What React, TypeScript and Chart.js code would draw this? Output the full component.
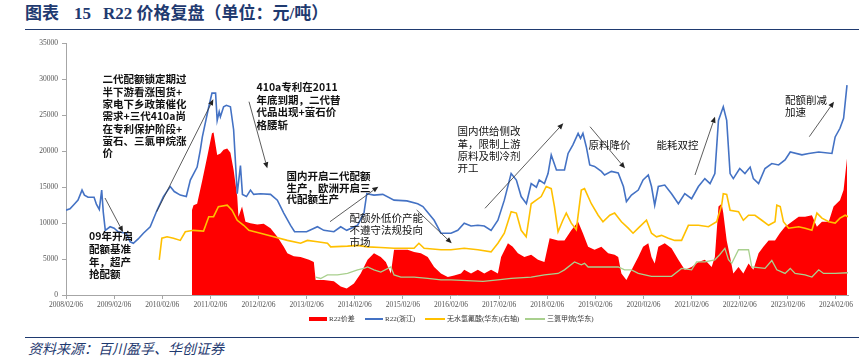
import React, { useEffect, useRef } from "react";
import { Chart, registerables } from "chart.js";
Chart.register(...registerables);

// x values are months counted from 2008/02/06
const START_YEAR = 2008;
const xTickMonths = [0, 12, 24, 36, 48, 60, 72, 84, 96, 108, 120, 132, 144, 156, 168, 180, 192];
const yTickValues = [0, 5000, 10000, 15000, 20000, 25000, 30000, 35000];

const seriesNames = ["R22价差", "R22(浙江)", "无水氢氟酸(华东)(右轴)", "三氯甲烷(华东)"];

const r22ZjMonths = [0, 1, 2, 3, 4, 4.6, 5.5, 7, 7.6, 8.3, 8.9, 9.3, 9.8, 11, 12, 13, 15, 16, 16.8, 18, 19.3, 21, 22.7, 24.3, 26, 27, 28.5, 30, 31, 32.7, 33.5, 34, 35.6, 36.4, 37.3, 37.7, 38.2, 38.5, 39.3, 40, 41, 41.8, 42.7, 43.5, 44, 45, 46, 46.8, 48.5, 51, 52.7, 54.3, 56, 57, 60, 62.7, 64.3, 66.8, 68.5, 70, 72.7, 74.3, 75, 76.8, 79, 81.8, 85, 87.7, 89, 91.8, 93.5, 96, 97.7, 99.3, 101, 102.7, 104.3, 106, 107.7, 109.3, 111, 112.3, 113.5, 114.8, 116, 117.3, 118, 119.3, 120.2, 121, 122.3, 124.3, 125.2, 126.4, 127.7, 128.3, 128.9, 129.75, 130.6, 131.8, 133.5, 134.3, 136, 137.7, 139, 139.75, 141, 142.7, 143.9, 145.2, 146, 146.8, 147.7, 149.3, 151, 152.7, 154.3, 156, 157.7, 159.3, 160.6, 161.8, 162.7, 163.9, 164.75, 165.6, 166.4, 168, 169.3, 170.6, 171.4, 172.7, 174.3, 176, 177.7, 179.3, 180.6, 183.5, 185.2, 187.7, 191, 191.8, 193, 193.9, 194.75];
const r22ZjValues = [11800, 12000, 12600, 13200, 14600, 13900, 13600, 13600, 12600, 11900, 14600, 11500, 9000, 9500, 9300, 8800, 8600, 7400, 7200, 7800, 8600, 9500, 11800, 13700, 15100, 14400, 13900, 13700, 16000, 17800, 20200, 22000, 26200, 28100, 28100, 24300, 25500, 24800, 26200, 26400, 26200, 23000, 14100, 18000, 14000, 13700, 14600, 14000, 14100, 14000, 13200, 11400, 9700, 8800, 8800, 9500, 9000, 8800, 9500, 9000, 9700, 11400, 14100, 13900, 14000, 13200, 13100, 12700, 12300, 10400, 8600, 8600, 9000, 10000, 9600, 9700, 9600, 9000, 10400, 13200, 16900, 16000, 13700, 12700, 15500, 15000, 16000, 15500, 16900, 19500, 17400, 17400, 19700, 20900, 22500, 21800, 22500, 20600, 18100, 17900, 17200, 16700, 17200, 17000, 15100, 13000, 13900, 14600, 16000, 16700, 15100, 12500, 15100, 15300, 14100, 12700, 14100, 13400, 15100, 16200, 15500, 16900, 24300, 26200, 24300, 16900, 16200, 17600, 16900, 17800, 16200, 15500, 17600, 18300, 18100, 18800, 19900, 19500, 19700, 19900, 19700, 22000, 23200, 24600, 29200];

const spreadMonths = [31.4, 31.8, 32.7, 34, 35.2, 36.4, 36.8, 37.7, 38.5, 39.3, 40.2, 41, 41.8, 42.7, 43, 43.9, 44.75, 46, 47.7, 49.3, 51, 52.7, 54.3, 55.2, 56.8, 58.5, 60.6, 61.8, 62.25, 64.3, 66.8, 68.5, 70, 71.8, 73.5, 75.2, 76.8, 78.5, 79.75, 81, 81.8, 83.5, 85.2, 86.8, 88.5, 90.2, 91.8, 93.5, 95.2, 96.8, 98.5, 99.3, 101, 102.7, 104.3, 106, 107.7, 108.5, 110.2, 111.4, 112.7, 114.3, 116, 117.7, 119.3, 120.6, 122.7, 124.3, 126, 127.7, 128.9, 130.2, 131.8, 133.5, 135.2, 136.8, 137.7, 138.5, 139.75, 141.4, 142.7, 143.9, 145.2, 146, 146.8, 147.7, 149.3, 151, 152.7, 154.3, 156, 157.7, 159.3, 161, 161.8, 162.7, 163.5, 163.9, 164.75, 165.6, 166.4, 167.7, 168.9, 170.2, 171.4, 172.7, 173.9, 175.2, 176.8, 178, 179.3, 181, 182.7, 184.3, 186, 187.25, 188.5, 190.2, 191.4, 193, 193.9, 194.75];
const spreadValues = [11800, 12500, 12700, 16000, 19200, 22500, 22600, 19500, 19700, 20200, 20400, 19800, 17400, 13700, 10900, 12300, 10200, 10000, 9800, 9900, 9300, 8100, 6700, 5800, 5400, 5300, 4900, 4600, 2100, 2100, 1900, 1200, 900, 1600, 3000, 4900, 5800, 5300, 4600, 3000, 6300, 6300, 6300, 6000, 5800, 5300, 3900, 3000, 2500, 2700, 3000, 3500, 3000, 3500, 3000, 3500, 3000, 5300, 7200, 6700, 5800, 5300, 5600, 4900, 4600, 7900, 7600, 7600, 9000, 10200, 8600, 6700, 6300, 6700, 5800, 5600, 5300, 3000, 2100, 3900, 5300, 6700, 7200, 5300, 4400, 6700, 7200, 6500, 4900, 3500, 3900, 4600, 4900, 3900, 5300, 12300, 12700, 11400, 7600, 5300, 3000, 3900, 3000, 4400, 3500, 5800, 6700, 7600, 7600, 8600, 9500, 10200, 10900, 10900, 11100, 9500, 10200, 10200, 12300, 13200, 14600, 19000];

const hfMonths = [23.25, 23.9, 25.2, 26.8, 28.5, 29.75, 31.8, 34.3, 35.6, 36.8, 38, 40.2, 41.4, 42.7, 44.3, 45.6, 48.5, 51.8, 55.2, 58.5, 60.2, 62.7, 65.2, 66, 70.2, 72.7, 75.2, 78.5, 81.8, 86.8, 88, 89.3, 93.5, 96, 99.3, 102.7, 106, 107.7, 109.3, 111, 112.3, 113.5, 114.75, 116, 117.25, 118.5, 119.75, 121, 121.8, 122.7, 123.9, 124.75, 126, 127.25, 128.5, 129.3, 131, 132.7, 133.9, 135.6, 136.8, 138.5, 140.2, 141.4, 142.7, 144.75, 146, 147.25, 148.5, 150.2, 151.8, 153.5, 155.2, 157.7, 160.2, 162.25, 163.5, 163.9, 164.75, 165.6, 167.7, 168.9, 170.2, 171.8, 173.5, 175.2, 176.8, 177.25, 178.1, 178.9, 180.2, 182.7, 184.3, 186, 187.25, 188.5, 190.2, 191.8, 193, 194.3, 195];
const hfValues = [4900, 7900, 8100, 7900, 7600, 8800, 9000, 8900, 10900, 10900, 12300, 12500, 11800, 10400, 9700, 9000, 8600, 8100, 7600, 7200, 7600, 7400, 7200, 6700, 6800, 6900, 6700, 6600, 6500, 6500, 7200, 6500, 6300, 6300, 6500, 6300, 6000, 7200, 8600, 11600, 11400, 9000, 8100, 12700, 13200, 13700, 15100, 14800, 12300, 8800, 10400, 11400, 10000, 9100, 14600, 14800, 12700, 11100, 10200, 11100, 11400, 10200, 9300, 8600, 9300, 10400, 8600, 8100, 8300, 7900, 7600, 7600, 9700, 9700, 9500, 10200, 12500, 14100, 14000, 11800, 11600, 10400, 11100, 11100, 10400, 9700, 10200, 12500, 12300, 10200, 9300, 9500, 9300, 9000, 11400, 10700, 10200, 10000, 10700, 11100, 10900];

const tcmMonths = [62.25, 63.5, 65.2, 67.7, 70.2, 72.7, 74.3, 75.2, 76.8, 78.5, 81, 81.8, 83.5, 86.8, 90.2, 93.5, 96, 100, 104, 107.7, 111, 116, 119.3, 122.7, 124.3, 126.8, 128.5, 129.3, 130.2, 137.7, 139.3, 141, 142.7, 146, 151, 153.5, 156, 157.25, 159.3, 161.8, 163, 164.3, 165.2, 166, 167.7, 170.2, 171, 174.3, 176, 177.25, 179.3, 180.6, 181.8, 184.3, 186, 187.7, 188.9, 191.8, 195];
const tcmValues = [2500, 2300, 2800, 2800, 3000, 3500, 3700, 3900, 3500, 3200, 3900, 2800, 2500, 2500, 2300, 2100, 2100, 2000, 1900, 2100, 2300, 2500, 2800, 3000, 3500, 4600, 4200, 4400, 3900, 3900, 3500, 3500, 3000, 2600, 2600, 3700, 3500, 4600, 4600, 4900, 5600, 6500, 4900, 4400, 6300, 6300, 3900, 3700, 4800, 3500, 3000, 3700, 3000, 2800, 2500, 3500, 3000, 3000, 3100];

const COLORS = { spread: "#FF0000", zj: "#4472C4", hf: "#FFC000", tcm: "#A9D08E" };
const NAVY = "#1F3A70";
const CANVAS_TOP = 32;

type Note = { x: number; y: number; lh: number; bold: boolean; lines: string[] };
const notes: Note[] = [
  { x: 89, y: 236.5, lh: 12.6, bold: true, lines: ["09年开启", "配额基准", "年，超产", "抢配额"] },
  { x: 102.5, y: 79.5, lh: 12.3, bold: true, lines: ["二代配额锁定期过", "半下游看涨囤货+", "家电下乡政策催化", "需求+三代410a尚", "在专利保护阶段+", "萤石、三氯甲烷涨", "价"] },
  { x: 256.5, y: 87, lh: 12.7, bold: true, lines: ["410a专利在2011", "年底到期，二代替", "代品出现+萤石价", "格腰斩"] },
  { x: 286.5, y: 176, lh: 11.7, bold: true, lines: ["国内开启二代配额", "生产，欧洲开启三", "代配额生产"] },
  { x: 349.5, y: 218.5, lh: 11.7, bold: false, lines: ["配额外低价产能", "不遵守法规投向", "市场"] },
  { x: 457.5, y: 131.5, lh: 12.2, bold: false, lines: ["国内供给侧改", "革，限制上游", "原料及制冷剂", "开工"] },
  { x: 588.5, y: 145, lh: 12, bold: false, lines: ["原料降价"] },
  { x: 656.5, y: 145, lh: 12, bold: false, lines: ["能耗双控"] },
  { x: 785, y: 100.5, lh: 11.5, bold: false, lines: ["配额削减", "加速"] },
];
const arrows: [number, number, number, number][] = [
  [105, 198, 123, 232],
  [156.7, 211.7, 213.3, 99.3],
  [249, 101.7, 267.3, 168.3],
  [330, 221.7, 378.3, 186.7],
  [416.7, 210, 451.7, 243.3],
  [485, 208.3, 563.3, 123.3],
  [590, 126.7, 625, 168.3],
  [695, 175, 715, 116.7],
  [809.3, 136.7, 834, 101.7],
];

const annoPlugin = {
  id: "annotations",
  afterDatasetsDraw(chart: any) {
    const ctx = chart.ctx as CanvasRenderingContext2D;
    ctx.save();
    ctx.strokeStyle = "#333";
    ctx.fillStyle = "#222";
    ctx.lineWidth = 0.8;
    for (const [x1, y1p, x2, y2p] of arrows) {
      const y1 = y1p - CANVAS_TOP;
      const y2 = y2p - CANVAS_TOP;
      const ang = Math.atan2(y2 - y1, x2 - x1);
      const hl = 6;
      const hw = 2.6;
      const bx = x2 - hl * Math.cos(ang);
      const by = y2 - hl * Math.sin(ang);
      ctx.beginPath();
      ctx.moveTo(x1, y1);
      ctx.lineTo(bx, by);
      ctx.stroke();
      ctx.beginPath();
      ctx.moveTo(x2, y2);
      ctx.lineTo(bx + hw * Math.sin(ang), by - hw * Math.cos(ang));
      ctx.lineTo(bx - hw * Math.sin(ang), by + hw * Math.cos(ang));
      ctx.closePath();
      ctx.fill();
    }
    ctx.fillStyle = "#111";
    ctx.textBaseline = "middle";
    ctx.textAlign = "left";
    for (const n of notes) {
      ctx.font = `${n.bold ? "bold " : ""}10.5px "Noto Sans CJK SC", "Noto Sans", sans-serif`;
      n.lines.forEach((l, i) => ctx.fillText(l, n.x, n.y - CANVAS_TOP + i * n.lh));
    }
    ctx.restore();
  },
};

const pts = (xs: number[], ys: number[]) => xs.map((x, i) => ({ x, y: ys[i] }));

export default function App() {
  const ref = useRef<HTMLCanvasElement>(null);
  useEffect(() => {
    if (!ref.current) return;
    const axisFont = { family: '"Liberation Serif", "Times New Roman", serif', size: 7.5 };
    const chart = new Chart(ref.current, {
      type: "line",
      data: {
        datasets: [
          { label: seriesNames[1], data: pts(r22ZjMonths, r22ZjValues), borderColor: COLORS.zj, borderWidth: 1.6, pointRadius: 0, fill: false, tension: 0, order: 0 },
          { label: seriesNames[2], data: pts(hfMonths, hfValues), borderColor: COLORS.hf, borderWidth: 1.6, pointRadius: 0, fill: false, tension: 0, order: 1 },
          { label: seriesNames[3], data: pts(tcmMonths, tcmValues), borderColor: COLORS.tcm, borderWidth: 1.3, pointRadius: 0, fill: false, tension: 0, order: 2 },
          { label: seriesNames[0], data: pts(spreadMonths, spreadValues), borderColor: COLORS.spread, backgroundColor: COLORS.spread, borderWidth: 0, pointRadius: 0, fill: "origin", tension: 0, order: 3 },
        ],
      },
      options: {
        animation: false,
        responsive: false,
        maintainAspectRatio: false,
        layout: { padding: { top: 11.5, right: 11, left: 0, bottom: 0 } },
        plugins: { legend: { display: false }, tooltip: { enabled: false } },
        scales: {
          x: {
            type: "linear",
            min: 0,
            max: 195,
            afterBuildTicks: (s: any) => { s.ticks = xTickMonths.map((v) => ({ value: v })); },
            afterFit: (s: any) => { s.height = 35; },
            ticks: {
              autoSkip: false,
              maxRotation: 0,
              padding: 2,
              color: "#555",
              font: axisFont,
              callback: (v: any) => `${START_YEAR + Math.round(Number(v) / 12)}/02/06`,
            },
            grid: { display: true, drawOnChartArea: false, drawTicks: true, tickLength: 4, color: "#a6a6a6" },
            border: { display: true, color: "#a6a6a6" },
          },
          y: {
            type: "linear",
            min: 0,
            max: 35000,
            afterBuildTicks: (s: any) => { s.ticks = yTickValues.map((v) => ({ value: v })); },
            afterFit: (s: any) => { s.width = 66; },
            ticks: { padding: 4, color: "#555", font: axisFont, callback: (v: any) => String(v) },
            grid: { display: true, drawOnChartArea: false, drawTicks: true, tickLength: 4, color: "#a6a6a6" },
            border: { display: true, color: "#a6a6a6" },
          },
        },
      },
      plugins: [annoPlugin],
    } as any);
    return () => chart.destroy();
  }, []);

  const legendText: React.CSSProperties = {
    position: "absolute",
    top: 314,
    height: 10,
    lineHeight: "10px",
    fontSize: 7,
    color: "#333",
    fontFamily: '"Liberation Serif", "Noto Sans CJK SC", serif',
    whiteSpace: "nowrap",
  };
  const swatch = (left: number, width: number, height: number, color: string): React.CSSProperties => ({
    position: "absolute",
    left,
    top: 319 - height / 2,
    width,
    height,
    background: color,
  });
  const titleStyle: React.CSSProperties = {
    position: "absolute",
    top: 3,
    height: 22,
    lineHeight: "22px",
    fontSize: 17,
    fontWeight: "bold",
    color: NAVY,
    fontFamily: '"Liberation Serif", "Noto Sans CJK SC", serif',
    whiteSpace: "nowrap",
  };

  return (
    <div style={{ position: "fixed", left: 0, top: 0, width: 859, height: 362, background: "#fff", overflow: "hidden" }}>
      <span style={{ ...titleStyle, left: 25 }}>图表</span>
      <span style={{ ...titleStyle, left: 74 }}>15</span>
      <span style={{ ...titleStyle, left: 103 }}>R22 价格复盘（单位：元/吨）</span>
      <div style={{ position: "absolute", left: 25, top: 28.5, width: 834, height: 1.5, background: NAVY }} />
      <canvas ref={ref} width={859} height={298} style={{ position: "absolute", left: 0, top: CANVAS_TOP, width: 859, height: 298 }} />
      <div style={swatch(309, 18, 4, COLORS.spread)} />
      <div style={{ ...legendText, left: 329 }}>{seriesNames[0]}</div>
      <div style={swatch(365, 18, 1.5, COLORS.zj)} />
      <div style={{ ...legendText, left: 385 }}>{seriesNames[1]}</div>
      <div style={swatch(425, 20, 1.5, COLORS.hf)} />
      <div style={{ ...legendText, left: 447 }}>{seriesNames[2]}</div>
      <div style={swatch(525, 20, 1.5, COLORS.tcm)} />
      <div style={{ ...legendText, left: 547 }}>{seriesNames[3]}</div>
      <div style={{ position: "absolute", left: 25, top: 337, width: 834, height: 1, background: NAVY }} />
      <div style={{ position: "absolute", left: 28, top: 339, height: 18, lineHeight: "18px", fontSize: 14, fontStyle: "italic", color: NAVY, fontFamily: '"Noto Sans CJK SC", sans-serif', whiteSpace: "nowrap" }}>
        资料来源：百川盈孚、华创证券
      </div>
    </div>
  );
}
